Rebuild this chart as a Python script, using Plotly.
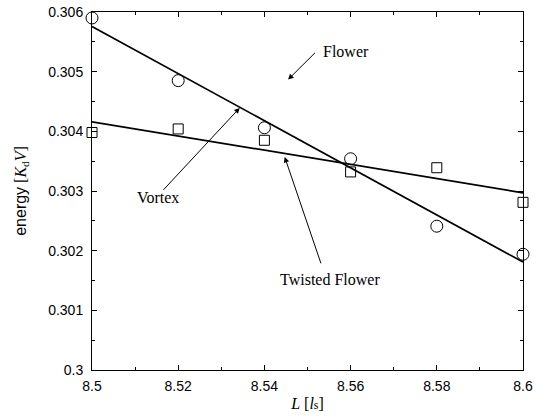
import numpy as np
import plotly.graph_objects as go

# Data
L_values = [8.50, 8.52, 8.54, 8.56, 8.58, 8.60]
vortex_energy = [0.30590, 0.30485, 0.30406, 0.30354, 0.30241, 0.30194]
twisted_energy = [0.30398, 0.30404, 0.30385, 0.30332, 0.30339, 0.30281]
x_ticks = [8.5, 8.52, 8.54, 8.56, 8.58, 8.6]
x_tick_text = ["8.5", "8.52", "8.54", "8.56", "8.58", "8.6"]
y_ticks = [0.300, 0.301, 0.302, 0.303, 0.304, 0.305, 0.306]
y_tick_text = ["0.3", "0.301", "0.302", "0.303", "0.304", "0.305", "0.306"]

x = np.array(L_values)
fit_x = np.array([min(L_values), max(L_values)])
pv = np.polyfit(x, np.array(vortex_energy), 1)
pt = np.polyfit(x, np.array(twisted_energy), 1)

fig = go.Figure()
fig.add_trace(go.Scatter(x=fit_x, y=np.polyval(pv, fit_x), mode="lines",
                         line=dict(color="black", width=1.7), showlegend=False, cliponaxis=False))
fig.add_trace(go.Scatter(x=fit_x, y=np.polyval(pt, fit_x), mode="lines",
                         line=dict(color="black", width=1.7), showlegend=False, cliponaxis=False))
fig.add_trace(go.Scatter(x=L_values, y=vortex_energy, mode="markers", name="Vortex",
                         marker=dict(symbol="circle-open", size=12, color="black", line=dict(width=1)),
                         showlegend=False, cliponaxis=False))
fig.add_trace(go.Scatter(x=L_values, y=twisted_energy, mode="markers", name="Twisted Flower",
                         marker=dict(symbol="square-open", size=10, color="black", line=dict(width=1)),
                         showlegend=False, cliponaxis=False))

serif = "Liberation Serif"
ann_font = dict(family=serif, size=16, color="black")
arrows = [
    # (tip x, tip y, tail x, tail y)
    (8.5455, 0.304867, 8.5521, 0.305342),
    (8.53427, 0.304393, 8.51624, 0.302993),
    (8.54471, 0.30357, 8.55323, 0.301763),
]
for tx, ty, sx, sy in arrows:
    fig.add_annotation(x=tx, y=ty, ax=sx, ay=sy, axref="x", ayref="y", text="",
                       showarrow=True, arrowhead=2, arrowsize=1.1, arrowwidth=1,
                       arrowcolor="black")
labels = [("Flower", 8.5589, 0.305337), ("Vortex", 8.5153, 0.30289),
          ("Twisted Flower", 8.5553, 0.30151)]
for t, lx, ly in labels:
    fig.add_annotation(x=lx, y=ly, text=t, showarrow=False, font=ann_font,
                       xanchor="center", yanchor="middle")

axis_common = dict(showline=True, linecolor="black", linewidth=1, mirror="ticks",
                   ticks="inside", ticklen=5, tickwidth=1, tickcolor="black",
                   showgrid=False, zeroline=False, automargin=False,
                   tickfont=dict(family="Liberation Sans", size=14, color="black"))

fig.update_xaxes(range=[8.5, 8.6], tickvals=x_ticks, ticktext=x_tick_text,
                 minor=dict(ticks="inside", ticklen=3, dtick=0.01, tick0=8.5, tickcolor="black"),
                 ticklabelstandoff=3,
                 title=dict(text='<i>L</i> [<i>l</i><span style="font-size:12px">s</span>]',
                            font=dict(family=serif, size=16, color="black"), standoff=5),
                 **axis_common)
fig.update_yaxes(range=[0.3, 0.306], tickvals=y_ticks, ticktext=y_tick_text,
                 minor=dict(ticks="inside", ticklen=3, dtick=0.0005, tick0=0.3, tickcolor="black"),
                 ticklabelstandoff=5,
                 title=dict(text='<span style="font-family:Liberation Sans">energy</span> [<i>K</i><sub>d</sub><i>V</i>]',
                            font=dict(family=serif, size=16, color="black"), standoff=17),
                 **axis_common)

fig.update_layout(width=545, height=418, margin=dict(l=92, r=22, t=12, b=48),
                  plot_bgcolor="white", paper_bgcolor="white", showlegend=False)
fig.write_html("out.html")
